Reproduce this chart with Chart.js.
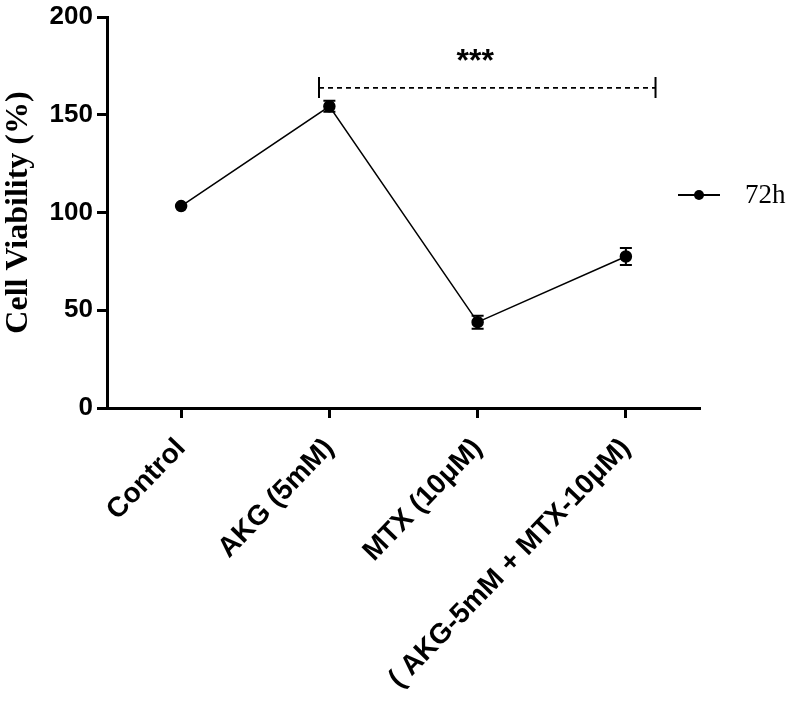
<!DOCTYPE html>
<html>
<head>
<meta charset="utf-8">
<script src="https://cdn.jsdelivr.net/npm/chart.js@4.4.1/dist/chart.umd.min.js"></script>
<style>
  html, body { margin: 0; padding: 0; background: #fff; }
  #wrap { width: 787px; height: 706px; }
</style>
</head>
<body>
<div id="wrap"><canvas id="c" width="787" height="706"></canvas></div>
<script>
const categories = ["Control", "AKG (5mM)", "MTX (10μM)", "( AKG-5mM + MTX-10μM)"];
const seriesLabel = "72h";
const viability = [103.3, 154.3, 43.9, 77.5];
const errors = [1.0, 2.8, 3.3, 4.3];
const yTicks = [0, 50, 100, 150, 200];
const significance = { from: 0.93, to: 3.2, level: 163.7, text: "***" };

const errorBars = {
  id: 'errorBars',
  afterDatasetsDraw(chart) {
    const ctx = chart.ctx, xs = chart.scales.x, ys = chart.scales.y;
    ctx.save();
    ctx.strokeStyle = '#000';
    ctx.lineWidth = 2;
    viability.forEach((v, i) => {
      const e = errors[i];
      if (e < 1.5) return;
      const x = xs.getPixelForValue(i);
      const yt = ys.getPixelForValue(v + e), yb = ys.getPixelForValue(v - e);
      ctx.beginPath();
      ctx.moveTo(x, yt); ctx.lineTo(x, yb);
      ctx.moveTo(x - 6, yt); ctx.lineTo(x + 6, yt);
      ctx.moveTo(x - 6, yb); ctx.lineTo(x + 6, yb);
      ctx.stroke();
    });
    // significance bracket
    const x1 = xs.getPixelForValue(significance.from), x2 = xs.getPixelForValue(significance.to);
    const y = ys.getPixelForValue(significance.level);
    ctx.setLineDash([5, 4]);
    ctx.lineWidth = 1.8;
    ctx.beginPath(); ctx.moveTo(x1, y); ctx.lineTo(x2, y); ctx.stroke();
    ctx.setLineDash([]);
    ctx.lineWidth = 2;
    ctx.beginPath();
    ctx.moveTo(x1, y - 11); ctx.lineTo(x1, y + 10);
    ctx.moveTo(x2, y - 11); ctx.lineTo(x2, y + 10);
    ctx.stroke();
    ctx.fillStyle = '#000';
    ctx.font = 'bold 32px "Liberation Sans", Arial, sans-serif';
    ctx.textAlign = 'center';
    ctx.textBaseline = 'alphabetic';
    ctx.fillText(significance.text, (x1 + x2) / 2 - 12, y - 17);
    // legend
    const lx = chart.chartArea.right - 22, ly = chart.chartArea.top + 178;
    ctx.lineWidth = 2;
    ctx.beginPath(); ctx.moveTo(lx, ly); ctx.lineTo(lx + 42, ly); ctx.stroke();
    ctx.beginPath(); ctx.arc(lx + 21, ly, 5, 0, Math.PI * 2); ctx.fill();
    ctx.font = '27px "Liberation Serif", "Times New Roman", serif';
    ctx.textAlign = 'left';
    ctx.textBaseline = 'middle';
    ctx.fillText(seriesLabel, lx + 67, ly + 1);
    ctx.restore();
  }
};

new Chart(document.getElementById('c'), {
  type: 'line',
  data: {
    labels: categories,
    datasets: [{
      label: seriesLabel,
      data: viability,
      borderColor: '#000',
      backgroundColor: '#000',
      borderWidth: 1.5,
      pointRadius: 5.5,
      pointHoverRadius: 5.5,
      pointBackgroundColor: '#000',
      tension: 0
    }]
  },
  options: {
    responsive: false,
    animation: false,
    devicePixelRatio: 1,
    layout: { padding: { top: 15, right: 87, left: 0, bottom: 0 } },
    plugins: { legend: { display: false }, tooltip: { enabled: false } },
    scales: {
      x: {
        type: 'category',
        offset: true,
        grid: { display: true, drawOnChartArea: false, drawTicks: true, tickLength: 10, tickWidth: 3, tickColor: '#000', offset: false },
        border: { display: true, color: '#000', width: 3 },
        ticks: {
          color: '#000',
          font: { family: '"Liberation Sans", Arial, sans-serif', size: 28, weight: 'bold' },
          maxRotation: 46, minRotation: 46, padding: 14, autoSkip: false
        },
        afterFit(scale) { scale.height = 298; }
      },
      y: {
        min: 0, max: 200,
        afterBuildTicks(scale) { scale.ticks = yTicks.map(v => ({ value: v })); },
        grid: { display: true, drawOnChartArea: false, drawTicks: true, tickLength: 10, tickWidth: 3, tickColor: '#000' },
        border: { display: true, color: '#000', width: 3 },
        ticks: {
          color: '#000',
          font: { family: '"Liberation Sans", Arial, sans-serif', size: 26, weight: 'bold', lineHeight: 1 },
          padding: 4
        },
        title: {
          display: true,
          text: 'Cell Viability (%)',
          color: '#000',
          font: { family: '"Liberation Serif", "Times New Roman", serif', size: 32, weight: 'bold' },
          padding: { top: 0, bottom: 0 }
        },
        afterFit(scale) { scale.width = 107; }
      }
    }
  },
  plugins: [errorBars]
});
</script>
</body>
</html>
